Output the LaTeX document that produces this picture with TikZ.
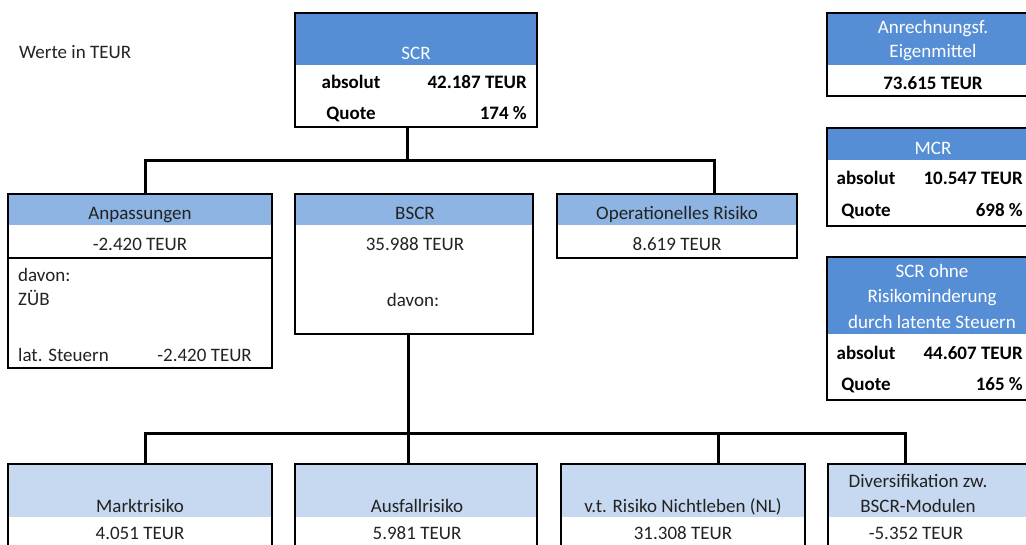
\documentclass[tikz,border=0pt]{standalone}
\usepackage{fontspec}
\setmainfont{Carlito}
\definecolor{hdark}{HTML}{558ED5}
\definecolor{hmid}{HTML}{8DB4E2}
\definecolor{hlight}{HTML}{C6D9F1}
\definecolor{ink}{HTML}{222222}
\begin{document}
\begin{tikzpicture}[x=1pt,y=-1pt,
 bx/.style={draw=black,line width=2.6pt,anchor=north west,inner sep=0pt,outer sep=0pt},
 hdr/.style 2 args={path picture={\fill[#1] (path picture bounding box.north west) rectangle ([yshift=-#2]path picture bounding box.north east);}},
 conn/.style={line width=3pt},
 txt/.style={font=\fontsize{19}{23}\selectfont, text=ink, inner sep=0pt, text height=12pt, text depth=0pt},
 wtxt/.style={font=\fontsize{19}{23}\selectfont, text=white, inner sep=0pt, text height=12pt, text depth=0pt},
 btxt/.style={font=\bfseries\fontsize{19}{23}\selectfont, text=black, inner sep=0pt, text height=12pt, text depth=0pt},
]
\useasboundingbox (0,0) rectangle (1026,544);
\clip (0,0) rectangle (1026,544);

% boxes
\node[bx,hdr={hdark}{52pt},minimum width=242pt,minimum height=114pt] (scr) at (295,13) {};
\node[bx,hdr={hdark}{52pt},minimum width=213pt,minimum height=83pt] (anr) at (827,13) {};
\node[bx,hdr={hdark}{32pt},minimum width=213pt,minimum height=98pt] (mcr) at (827,128) {};
\node[bx,hdr={hdark}{77pt},minimum width=213pt,minimum height=143pt] (ohne) at (827,257) {};

\node[bx,hdr={hmid}{31pt},minimum width=264pt,minimum height=174pt] (anp) at (8,194) {};
\node[bx,hdr={hmid}{31pt},minimum width=238pt,minimum height=140pt] (bscr) at (295,194) {};
\node[bx,hdr={hmid}{31pt},minimum width=240pt,minimum height=64pt] (op) at (557,194) {};
\draw[black,line width=2.6pt] ([yshift=-64pt]anp.north west) -- ([yshift=-64pt]anp.north east);

\node[bx,hdr={hlight}{53pt},minimum width=264pt,minimum height=100pt] (markt) at (8,464) {};
\node[bx,hdr={hlight}{53pt},minimum width=242pt,minimum height=100pt] (aus) at (295,464) {};
\node[bx,hdr={hlight}{53pt},minimum width=244pt,minimum height=100pt] (vt) at (561,464) {};
\node[bx,hdr={hlight}{53pt},minimum width=212pt,minimum height=100pt] (div) at (828,464) {};

% connectors
\coordinate (ja) at (407,160);
\coordinate (jl) at (145,160);
\coordinate (jr) at (714,160);
\draw[conn] (scr.south -| ja) -- (ja);
\draw[conn] (jl |- anp.north) -- (jl) -- (jr) -- (jr |- op.north);
\coordinate (jb) at (408,433);
\coordinate (kl) at (145,433);
\coordinate (kv) at (718,433);
\coordinate (kr) at (905,433);
\draw[conn] (bscr.south -| jb) -- (jb) -- (jb |- aus.north);
\draw[conn] (kl |- markt.north) -- (kl) -- (kr) -- (kr |- div.north);
\draw[conn] (kv) -- (kv |- vt.north);

% texts
\node[txt,anchor=west] (werte) at (19,52) {Werte in TEUR};

\node[wtxt] (scrh) at (416,53) {SCR};
\node[btxt] (scra) at (351,82) {absolut};
\node[btxt,anchor=east] (scrav) at (527,82) {42.187 TEUR};
\node[btxt] (scrq) at (351,113) {Quote};
\node[btxt,anchor=east] (scrqv) at (527,113) {174 \%};

\node[wtxt] (anrh1) at (933,27) {Anrechnungsf.};
\node[wtxt] (anrh2) at (933,51) {Eigenmittel};
\node[btxt] (anrv) at (933,83) {73.615 TEUR};

\node[wtxt] (mcrh) at (933,148) {MCR};
\node[btxt] (mcra) at (866,178) {absolut};
\node[btxt,anchor=east] (mcrav) at (1023,178) {10.547 TEUR};
\node[btxt] (mcrq) at (866,210) {Quote};
\node[btxt,anchor=east] (mcrqv) at (1023,210) {698 \%};

\node[wtxt] (ohh1) at (932,271.5) {SCR ohne};
\node[wtxt] (ohh2) at (932,296.5) {Risikominderung};
\node[wtxt] (ohh3) at (932,322) {durch latente Steuern};
\node[btxt] (oha) at (866,353) {absolut};
\node[btxt,anchor=east] (ohav) at (1023,353) {44.607 TEUR};
\node[btxt] (ohq) at (866,384) {Quote};
\node[btxt,anchor=east] (ohqv) at (1023,384) {165 \%};

\node[txt] (anph) at (140,213) {Anpassungen};
\node[txt] (anpv) at (140,244) {-2.420 TEUR};
\node[txt,anchor=west] (anpd) at (18,275) {davon:};
\node[txt,anchor=west] (anpz) at (18,299) {ZÜB};
\node[txt,anchor=west] (anpl) at (18,355) {lat. Steuern};
\node[txt,anchor=east] (anplv) at (252,355) {-2.420 TEUR};

\node[txt] (bscrh) at (415,213) {BSCR};
\node[txt] (bscrv) at (415,244) {35.988 TEUR};
\node[txt] (bscrd) at (413,300) {davon:};

\node[txt] (oph) at (677,213) {Operationelles Risiko};
\node[txt] (opv) at (677,244) {8.619 TEUR};

\node[txt] (markth) at (140,506) {Marktrisiko};
\node[txt] (marktv) at (140,533) {4.051 TEUR};
\node[txt] (aush) at (417,506) {Ausfallrisiko};
\node[txt] (ausv) at (417,533) {5.981 TEUR};
\node[txt] (vth) at (683,506) {v.t. Risiko Nichtleben (NL)};
\node[txt] (vtv) at (683,533) {31.308 TEUR};
\node[txt] (divh1) at (918,481) {Diversifikation zw.};
\node[txt] (divh2) at (918,506) {BSCR-Modulen};
\node[txt] (divv) at (916,533) {-5.352 TEUR};
\end{tikzpicture}
\end{document}
